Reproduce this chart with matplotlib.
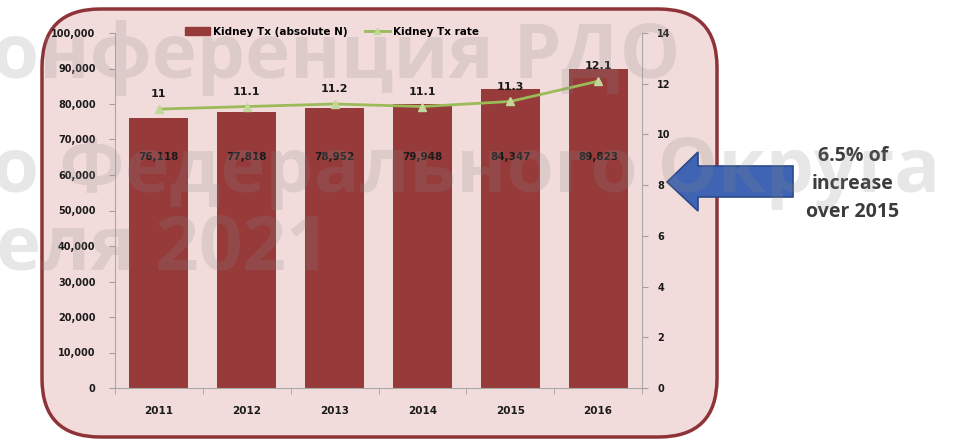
import matplotlib
matplotlib.use("Agg")
import matplotlib.pyplot as plt
from matplotlib.patches import FancyBboxPatch, Polygon, Patch
from matplotlib.lines import Line2D
import numpy as np

years = ["2011", "2012", "2013", "2014", "2015", "2016"]
kidney_tx = [76118, 77818, 78952, 79948, 84347, 89823]
kidney_rate = [11, 11.1, 11.2, 11.1, 11.3, 12.1]
bar_labels = ["76,118", "77,818", "78,952", "79,948", "84,347", "89,823"]
left_ticks = list(range(0, 100001, 10000))
right_ticks = list(range(0, 15, 2))
legend_labels = ["Kidney Tx (absolute N)", "Kidney Tx rate"]
annotation = "6.5% of\nincrease\nover 2015"
watermark = ["онференция РДО", "о Федерального Округа", "еля 2021"]

W, H = 973, 442
fig = plt.figure(figsize=(W / 100, H / 100), dpi=100)
fig.patch.set_facecolor("white")

BG = "#f2dcdb"
BAR = "#963a3a"
LINE = "#9bbb59"
TXT = "#1a1a1a"
FONT = ["DejaVu Sans"]
FONT2 = ["Open Sans", "DejaVu Sans"]


def fx(px):
    return px / W


def fy(py):
    return 1 - py / H


frame = FancyBboxPatch((fx(42), fy(437)), fx(717) - fx(42), fy(9) - fy(437),
                       boxstyle="round,pad=0,rounding_size=0.06",
                       transform=fig.transFigure, facecolor=BG,
                       edgecolor="#8e3438", linewidth=2.5, mutation_aspect=W / H,
                       zorder=-10)
fig.patches.append(frame)

ax = fig.add_axes([fx(115), fy(388), fx(642) - fx(115), fy(33) - fy(388)])
ax.set_zorder(1)
ax.set_facecolor("none")
x = np.arange(len(years))
ax.bar(x, kidney_tx, width=0.67, color=BAR, zorder=2)
ax.set_xlim(-0.5, len(years) - 0.5)
ax.set_ylim(0, 100000)
ax.set_yticks(left_ticks)
ax.set_yticklabels([f"{v:,}" for v in left_ticks], fontsize=7, fontweight="bold",
                   color=TXT, family=FONT)
ax.set_xticks(x)
ax.set_xticklabels(years, fontsize=7.5, fontweight="bold", color=TXT, family=FONT)
ax.set_xticks(np.arange(-0.5, len(years)), minor=True)
ax.tick_params(axis="x", which="major", length=0, pad=13)
ax.tick_params(axis="x", which="minor", length=4, color="#a0a0a0")
ax.tick_params(axis="y", length=4, color="#a0a0a0", pad=10)
for s in ["top", "right"]:
    ax.spines[s].set_visible(False)
for s in ["left", "bottom"]:
    ax.spines[s].set_color("#a8a8a8")
    ax.spines[s].set_linewidth(0.8)

for xi, lab in zip(x, bar_labels):
    ax.text(xi, 65000, lab, ha="center", va="center", fontsize=7.5,
            fontweight="bold", color=TXT, family=FONT, zorder=4)

ax2 = ax.twinx()
ax2.set_zorder(2)
ax2.set_facecolor("none")
ax2.set_ylim(0, 14)
ax2.set_yticks(right_ticks)
ax2.set_yticklabels([str(v) for v in right_ticks], fontsize=7, fontweight="bold",
                    color=TXT, family=FONT)
ax2.tick_params(axis="y", length=4, color="#a0a0a0", pad=7)
for s in ["top", "left", "bottom"]:
    ax2.spines[s].set_visible(False)
ax2.spines["right"].set_color("#a8a8a8")
ax2.spines["right"].set_linewidth(0.8)
ax2.plot(x, kidney_rate, color=LINE, lw=2, marker="^", markersize=6,
         markerfacecolor="#c4d79b", markeredgecolor="#c4d79b", zorder=5)
for xi, r in zip(x, kidney_rate):
    ax2.annotate(f"{r:g}", (xi, r), xytext=(0, 7), textcoords="offset points",
                 ha="center", va="bottom", fontsize=8, fontweight="bold",
                 color=TXT, family=FONT)

handles = [Patch(facecolor=BAR, edgecolor=BAR),
           Line2D([0], [0], color=LINE, lw=2, marker="^", markersize=5,
                  markerfacecolor="#c4d79b", markeredgecolor="#c4d79b")]
leg = fig.legend(handles, legend_labels, loc="center", ncol=2,
                 bbox_to_anchor=(fx(332), fy(32)), frameon=False,
                 prop={"size": 7.5, "weight": "bold", "family": FONT},
                 handlelength=2.4, handleheight=0.8, columnspacing=1.6,
                 handletextpad=0.3)
leg.set_zorder(6)

# blue arrow
arrow_pts = [(667, 182), (698, 152), (698, 166), (793, 166), (793, 197),
             (698, 197), (698, 211)]
arrow = Polygon([(fx(a), fy(b)) for a, b in arrow_pts], closed=True,
                transform=fig.transFigure, facecolor="#3f64b4",
                edgecolor="#2a4a8a", linewidth=1.2, zorder=10)
fig.patches.append(arrow)

fig.text(fx(853), fy(184), annotation, ha="center", va="center", fontsize=14,
         fontweight="bold", color="#3b3b3b", family=FONT2, linespacing=1.55,
         zorder=11)

# watermark
wm_pos = [(-8, 58), (-8, 172), (-4, 250)]
for (wx, wy), t in zip(wm_pos, watermark):
    fig.text(fx(wx), fy(wy), t, ha="left", va="center", fontsize=55,
             fontweight="bold", color="#8a8a8a", alpha=0.2,
             family=FONT2, zorder=20)

fig.savefig("out.png", dpi=100, facecolor="white")
